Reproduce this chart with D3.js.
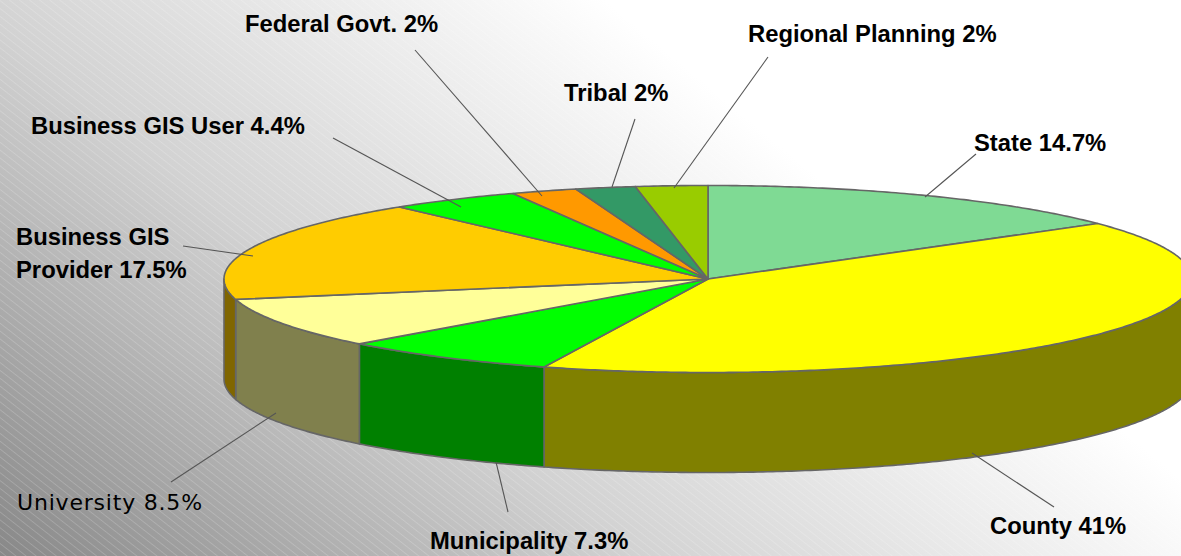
<!doctype html>
<html lang="en">
<head>
<meta charset="utf-8" />
<style>
  html, body { margin: 0; padding: 0; background: #fff; }
  svg { display: block; }
  .slice, .wall { stroke: #666; stroke-width: 1.6px; stroke-linejoin: round; }
  .leader { stroke: #555; stroke-width: 1.1px; fill: none; }
  .label { font: bold 23.8px "Liberation Sans", Arial, sans-serif; fill: #000; }
  .label.mono { font: normal 22px "DejaVu Sans", sans-serif; letter-spacing: 0.8px; }
</style>
</head>
<body>
<div id="chart"></div>
<script src="https://d3js.org/d3.v7.min.js"></script>
<script>
// slices, clockwise from 12 o'clock
const categories = ["State", "County", "Municipality", "University", "Business GIS Provider",
                    "Business GIS User", "Federal Govt.", "Tribal", "Regional Planning"];
const shares = [14.9, 40.6, 7.3, 8.7, 17.5, 4.4, 2.2, 2, 2.4];   // as drawn
const topColors = ["#7fda94", "#ffff00", "#00ff00", "#ffff99", "#ffcc00", "#00ff00", "#ff9900", "#339966", "#99cc00"];
const wallColors = ["#406d4a", "#808000", "#008000", "#80804d", "#806600", "#008000", "#804d00", "#1a4d33", "#4d6600"];

// text of the callouts as printed
const labelLines = [["State 14.7%"], ["County 41%"], ["Municipality 7.3%"], ["University 8.5%"],
                    ["Business GIS", "Provider 17.5%"], ["Business GIS User 4.4%"], ["Federal Govt. 2%"],
                    ["Tribal 2%"], ["Regional Planning 2%"]];

var width = 1181,
    height = 556;

var cx = 708, cy = 279, rx = 484, ry = 93.5, depth = 100;

// callout layout: text anchor, then leader from->to
const callouts = [
  { x: 974, y: 151, from: [976, 154], to: [925, 197] },
  { x: 990, y: 534, from: [1054, 507], to: [972, 453] },
  { x: 430, y: 549, from: [508, 512], to: [496, 462] },
  { x: 17, y: 510, from: [171, 482], to: [276, 413], mono: true },
  { x: 16, y: 245, from: [183, 246], to: [253, 256] },
  { x: 31, y: 134, from: [333, 138], to: [461, 207] },
  { x: 245, y: 32, from: [415, 50], to: [542, 196] },
  { x: 564, y: 101, from: [635, 119], to: [612, 187] },
  { x: 748, y: 42, from: [768, 57], to: [674, 188] }
];

var svg = d3.select("#chart").append("svg")
    .attr("width", width)
    .attr("height", height);

var defs = svg.append("defs");

var grad = defs.append("linearGradient")
    .attr("id", "bg")
    .attr("gradientUnits", "userSpaceOnUse")
    .attr("x1", 0).attr("y1", 556)
    .attr("x2", 520).attr("y2", -70);
grad.append("stop").attr("offset", "0%").attr("stop-color", "#888888");
grad.append("stop").attr("offset", "50%").attr("stop-color", "#d2d2d2");
grad.append("stop").attr("offset", "100%").attr("stop-color", "#ffffff");

var stripes = defs.append("pattern")
    .attr("id", "stripes")
    .attr("patternUnits", "userSpaceOnUse")
    .attr("width", 6.2).attr("height", 6.2)
    .attr("patternTransform", "rotate(38)");
stripes.append("rect")
    .attr("width", 6.2).attr("height", 0.8)
    .attr("fill", "#fff").attr("fill-opacity", 0.2);

svg.append("rect").attr("width", width).attr("height", height).attr("fill", "url(#bg)");
svg.append("rect").attr("width", width).attr("height", height).attr("fill", "url(#stripes)");

// flat pie seen at an angle: unit circle mapped on to an ellipse
var x = d3.scaleLinear().domain([-1, 1]).range([cx - rx, cx + rx]);
var y = d3.scaleLinear().domain([-1, 1]).range([cy - ry, cy + ry]);

var pie = d3.pie().sort(null);
var arcs = pie(shares);

function rim(a0, a1) {
  var n = Math.max(2, Math.ceil((a1 - a0) / 0.01));
  return d3.range(n + 1).map(i => {
    var a = a0 + (a1 - a0) * i / n;
    return [x(Math.sin(a)), y(-Math.cos(a))];
  });
}

var line = d3.line();

function slicePath(d) {
  return line([[x(0), y(0)]].concat(rim(d.startAngle, d.endAngle))) + "Z";
}

// the side only shows on the front half, pi/2 .. 3pi/2
function wallPath(d) {
  var a0 = Math.max(d.startAngle, Math.PI / 2),
      a1 = Math.min(d.endAngle, 3 * Math.PI / 2);
  if (a1 <= a0) return null;
  var top = rim(a0, a1);
  var bottom = top.map(p => [p[0], p[1] + depth]).reverse();
  return line(top.concat(bottom)) + "Z";
}

svg.append("g").selectAll("path")
    .data(arcs.filter(d => wallPath(d)))
  .enter().append("path")
    .attr("class", "wall")
    .attr("d", wallPath)
    .attr("fill", d => wallColors[d.index]);

svg.append("g").selectAll("path")
    .data(arcs)
  .enter().append("path")
    .attr("class", "slice")
    .attr("d", slicePath)
    .attr("fill", d => topColors[d.index]);

svg.append("g").selectAll("line")
    .data(callouts)
  .enter().append("line")
    .attr("class", "leader")
    .attr("x1", d => d.from[0]).attr("y1", d => d.from[1])
    .attr("x2", d => d.to[0]).attr("y2", d => d.to[1]);

var labels = svg.append("g").selectAll("text")
    .data(categories)
  .enter().append("text")
    .attr("class", (d, i) => callouts[i].mono ? "label mono" : "label")
    .attr("x", (d, i) => callouts[i].x)
    .attr("y", (d, i) => callouts[i].y);

labels.selectAll("tspan")
    .data((d, i) => labelLines[i].map((t, k) => ({ t: t, k: k, x: callouts[i].x })))
  .enter().append("tspan")
    .attr("x", d => d.x)
    .attr("dy", d => d.k ? 33 : 0)
    .text(d => d.t);
</script>
</body>
</html>
